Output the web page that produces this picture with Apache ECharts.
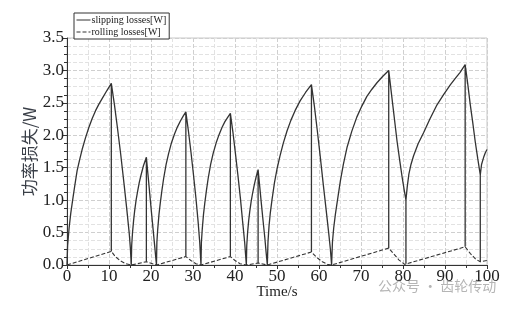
<!DOCTYPE html>
<html>
<head>
<meta charset="utf-8">
<script src="https://cdn.jsdelivr.net/npm/echarts@6/dist/echarts.min.js"></script>
<style>
  html, body { margin: 0; padding: 0; background: #fff; }
  #main { width: 514px; height: 309px; }
</style>
</head>
<body>
<div id="main"></div>
<script>
// slipping losses [time s, loss W] - each peak has a vertical drop to the rolling value
var slipping = [
  [0,0],[0.15,0.3],[0.5,0.57],[0.9,0.8],[1.3,0.98],[1.8,1.2],[2.4,1.45],[3.0,1.62],[3.6,1.78],[4.4,1.96],
  [5.2,2.12],[6.0,2.26],[6.8,2.38],[7.6,2.48],[8.4,2.57],[9.5,2.69],[10.55,2.8],
  [10.55,0.21],[10.55,2.8],
  [11.3,2.47],[12.0,2.12],[12.8,1.7],[13.6,1.24],[14.2,0.88],[14.8,0.5],[15.1,0.25],[15.3,0],
  [15.4,0.3],[15.6,0.5],[15.85,0.68],[16.1,0.83],[16.45,1.0],[16.8,1.13],[17.2,1.27],[17.6,1.38],[18.2,1.53],[18.9,1.66],
  [18.9,0.05],[18.9,1.66],
  [19.3,1.38],[19.7,1.1],[20.1,0.82],[20.5,0.55],[20.9,0.28],[21.3,0],
  [21.4,0.35],[21.6,0.55],[21.9,0.78],[22.2,0.95],[22.6,1.15],[23.0,1.33],[23.6,1.55],[24.2,1.72],[24.9,1.89],
  [25.6,2.02],[26.3,2.13],[27.0,2.22],[27.7,2.3],[28.3,2.36],
  [28.3,0.13],[28.3,2.36],
  [28.9,2.07],[29.5,1.75],[30.1,1.4],[30.7,1.03],[31.2,0.68],[31.6,0.35],[31.9,0],
  [32.0,0.35],[32.2,0.55],[32.5,0.78],[32.8,0.95],[33.2,1.15],[33.6,1.33],[34.2,1.55],[34.8,1.72],[35.5,1.88],
  [36.2,2.01],[36.9,2.12],[37.6,2.21],[38.3,2.28],[38.9,2.34],
  [38.9,0.13],[38.9,2.34],
  [39.5,2.05],[40.1,1.72],[40.7,1.38],[41.3,1.02],[41.8,0.68],[42.3,0.35],[42.7,0],
  [42.8,0.3],[43.0,0.5],[43.25,0.68],[43.5,0.82],[43.85,0.98],[44.2,1.11],[44.6,1.24],[45.0,1.35],[45.5,1.47],
  [45.5,0.03],[45.5,1.47],
  [45.9,1.2],[46.3,0.93],[46.7,0.67],[47.1,0.42],[47.4,0.2],[47.7,0],
  [47.85,0.35],[48.1,0.6],[48.4,0.8],[48.8,1.0],[49.4,1.27],[50.0,1.48],[50.7,1.68],[51.5,1.88],[52.4,2.07],
  [53.3,2.23],[54.3,2.38],[55.5,2.53],[56.8,2.66],[58.2,2.78],
  [58.2,0.2],[58.2,2.78],
  [58.9,2.45],[59.6,2.07],[60.3,1.67],[61.0,1.25],[61.7,0.85],[62.3,0.5],[62.7,0.25],[63.0,0],
  [63.2,0.35],[63.5,0.57],[63.9,0.78],[64.4,1.0],[65.1,1.3],[65.8,1.55],[66.7,1.82],[67.8,2.06],[69.0,2.28],
  [70.2,2.45],[71.4,2.6],[72.6,2.71],[73.8,2.81],[75.2,2.91],[76.6,3.0],
  [76.6,0.26],[76.6,3.0],
  [77.6,2.45],[78.6,1.9],[79.2,1.62],[79.8,1.35],[80.3,1.15],[80.7,1.0],
  [80.7,0.02],[80.7,1.0],
  [81.0,1.2],[81.4,1.4],[81.9,1.55],[82.5,1.68],[83.6,1.87],[84.9,2.04],[86.4,2.25],[88.1,2.47],[89.7,2.63],
  [91.3,2.78],[92.5,2.88],[93.6,2.97],[94.8,3.09],
  [94.8,0.28],[94.8,3.09],
  [95.4,2.8],[96.0,2.48],[96.6,2.2],[97.2,1.9],[97.8,1.64],[98.4,1.39],
  [98.4,0.05],[98.4,1.39],
  [98.7,1.55],[99.2,1.66],[99.6,1.73],[100,1.78]
];

// rolling losses [time s, loss W]
var rolling = [
  [0,0],[10.55,0.21],[11.5,0.13],[12.8,0.06],[14,0.02],[15.3,0],
  [18.9,0.05],[21.3,0],
  [28.3,0.13],[29.5,0.07],[30.7,0.02],[31.9,0],
  [38.9,0.13],[40.0,0.07],[41.2,0.02],[42.7,0],
  [45.5,0.03],[47.7,0],
  [58.2,0.2],[59.4,0.12],[60.8,0.05],[62,0.01],[63,0],
  [76.6,0.26],[77.8,0.17],[79,0.08],[80.4,0.01],
  [94.8,0.28],[96,0.18],[97.3,0.09],[98.4,0.05],[100,0.07]
];

var names = ['slipping losses[W]', 'rolling losses[W]'];

var serif = '"Liberation Serif", "DejaVu Serif", serif';
var chart = echarts.init(document.getElementById('main'));

chart.setOption({
  backgroundColor: '#fff',
  animation: false,
  grid: {
    left: 67, right: 27, top: 38, bottom: 44,
    show: true, borderColor: '#c8c8c8', borderWidth: 1
  },
  legend: {
    data: names,
    orient: 'vertical',
    left: 74, top: 13,
    backgroundColor: '#fff',
    borderColor: '#333',
    borderWidth: 1,
    borderRadius: 0,
    padding: [2, 3, 2, 2],
    itemGap: 2,
    itemWidth: 14,
    itemHeight: 8,
    itemStyle: { opacity: 0 },
    lineStyle: { width: 1 },
    textStyle: { fontFamily: serif, fontSize: 10, color: '#222', padding: [0, 0, 0, -4] }
  },
  xAxis: {
    type: 'value',
    min: 0, max: 100, interval: 10,
    name: 'Time/s',
    nameLocation: 'middle',
    nameGap: 20,
    nameMoveOverlap: false,
    nameTextStyle: { fontFamily: serif, fontSize: 15, color: '#222' },
    axisLine: { lineStyle: { color: '#333', width: 1 } },
    axisTick: { inside: false, length: 4, lineStyle: { color: '#333' } },
    minorTick: { show: true, splitNumber: 2, length: 3, lineStyle: { color: '#333' } },
    axisLabel: { fontFamily: serif, fontSize: 17, color: '#222', margin: 3 },
    splitLine: { show: true, lineStyle: { color: '#cfcfcf', type: 'dashed', width: 1 } },
    minorSplitLine: { show: true, lineStyle: { color: '#e2e2e2', type: 'dashed', width: 1 } }
  },
  yAxis: {
    type: 'value',
    min: 0, max: 3.5, interval: 0.5,
    name: '功率损失/W',
    nameLocation: 'middle',
    nameGap: 29,
    nameMoveOverlap: false,
    nameRotate: 90,
    nameTextStyle: { fontFamily: '"Noto Sans CJK SC", sans-serif', fontSize: 17, color: '#3a3f48' },
    axisLine: { show: true, lineStyle: { color: '#333', width: 1 } },
    axisTick: { show: true, length: 4, lineStyle: { color: '#333' } },
    minorTick: { show: true, splitNumber: 4, length: 3, lineStyle: { color: '#333' } },
    axisLabel: {
      fontFamily: serif, fontSize: 17, color: '#222', margin: 3,
      formatter: function (v) { return v.toFixed(1); }
    },
    splitLine: { show: true, lineStyle: { color: '#cfcfcf', type: 'dashed', width: 1 } },
    minorSplitLine: { show: true, lineStyle: { color: '#e2e2e2', type: 'dashed', width: 1 } }
  },
  graphic: [{
    type: 'text',
    left: 378, top: 279,
    style: {
      text: '公众号 · 齿轮传动',
      font: '14px "Noto Sans CJK SC", sans-serif',
      fill: '#b5b5b5'
    }
  }],
  series: [
    {
      name: names[0],
      type: 'line',
      data: slipping,
      showSymbol: false,
      symbol: 'none',
      lineStyle: { color: '#333', width: 1.3 },
      itemStyle: { color: '#333' }
    },
    {
      name: names[1],
      type: 'line',
      data: rolling,
      showSymbol: false,
      symbol: 'none',
      lineStyle: { color: '#333', width: 1.1, type: [4, 2] },
      itemStyle: { color: '#333' }
    }
  ]
});
</script>
</body>
</html>
